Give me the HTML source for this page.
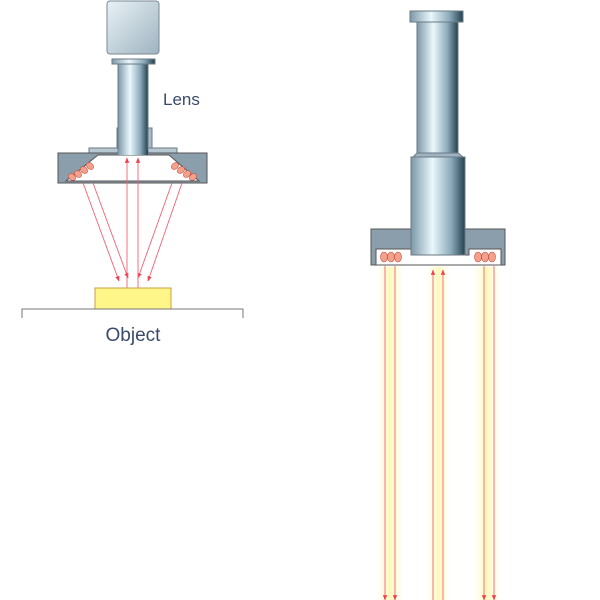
<!DOCTYPE html>
<html><head><meta charset="utf-8"><style>html,body{margin:0;padding:0;background:#fff}svg{display:block}</style></head>
<body>
<svg width="600" height="600" viewBox="0 0 600 600" xmlns="http://www.w3.org/2000/svg">
<defs>
<linearGradient id="cyl" x1="0" x2="1" y1="0" y2="0">
<stop offset="0" stop-color="#7d98a8"/><stop offset="0.4" stop-color="#eaf8fc"/><stop offset="0.75" stop-color="#8aa8b8"/><stop offset="1" stop-color="#23404e"/>
</linearGradient>
<linearGradient id="box" x1="0" x2="1" y1="0" y2="1">
<stop offset="0" stop-color="#e8f2f6"/><stop offset="1" stop-color="#9fb3c0"/>
</linearGradient>
<linearGradient id="glow" x1="0" x2="1">
<stop offset="0" stop-color="#fffce0" stop-opacity="0.2"/><stop offset="0.5" stop-color="#fff8b8"/><stop offset="1" stop-color="#fffce0" stop-opacity="0.2"/>
</linearGradient>
<marker id="ar" viewBox="0 0 10 10" refX="9" refY="5" markerWidth="6" markerHeight="6" orient="auto"><path d="M0,1 L10,5 L0,9 z" fill="#f04050"/></marker>
</defs>

<!-- LEFT -->
<rect x="107" y="1" width="52" height="53" rx="3" fill="url(#box)" stroke="#7a8a96"/>
<rect x="112" y="59" width="43" height="5" fill="url(#cyl)" stroke="#6a7a86"/>
<rect x="118" y="64" width="30" height="90" fill="url(#cyl)" stroke="#6a7a86"/>
<path d="M117,128 H118 V150 H117 Z M148,128 H152 V150 H148 Z" fill="#a8bac6" stroke="#6a7a86"/>
<rect x="89" y="148" width="29" height="6" fill="#b8c8d2" stroke="#6a7a86"/>
<rect x="148" y="148" width="29" height="6" fill="#b8c8d2" stroke="#6a7a86"/>
<path d="M58,153 H207 V183 H58 Z" fill="#8b9eac" stroke="#555"/>
<path d="M98,155 H169 L199,181 H66 Z" fill="#fff" stroke="#555"/>
<rect x="118" y="150" width="30" height="5" fill="url(#cyl)"/>
<g fill="#f4a08a" stroke="#c05040" stroke-width="0.6">
<ellipse cx="72" cy="177" rx="3" ry="4" transform="rotate(-50 72 177)"/>
<ellipse cx="78" cy="174" rx="3" ry="4" transform="rotate(-50 78 174)"/>
<ellipse cx="84" cy="170" rx="3" ry="4" transform="rotate(-50 84 170)"/>
<ellipse cx="90" cy="166" rx="3" ry="4" transform="rotate(-50 90 166)"/>
<ellipse cx="193" cy="177" rx="3" ry="4" transform="rotate(50 193 177)"/>
<ellipse cx="187" cy="174" rx="3" ry="4" transform="rotate(50 187 174)"/>
<ellipse cx="181" cy="170" rx="3" ry="4" transform="rotate(50 181 170)"/>
<ellipse cx="175" cy="166" rx="3" ry="4" transform="rotate(50 175 166)"/>
</g>
<g stroke="#f46070" stroke-width="0.9" fill="none" marker-end="url(#ar)">
<line x1="83" y1="183" x2="119" y2="281"/>
<line x1="93" y1="183" x2="128" y2="278"/>
<line x1="182" y1="183" x2="148" y2="281"/>
<line x1="172" y1="183" x2="138" y2="278"/>
<line x1="127" y1="288" x2="127" y2="158"/>
<line x1="138" y1="288" x2="138" y2="158"/>
</g>
<rect x="95" y="288" width="76" height="21" fill="#fff68a" stroke="#c8a040"/>
<path d="M22,318 V309 H243 V318" fill="none" stroke="#777"/>
<text x="133" y="341" font-family="Liberation Sans, sans-serif" font-size="19" fill="#3a4a6a" text-anchor="middle">Object</text>
<text x="163" y="105" font-family="Liberation Sans, sans-serif" font-size="17" fill="#3a4a6a">Lens</text>

<!-- RIGHT -->
<rect x="377" y="267" width="26" height="333" fill="url(#glow)"/>
<rect x="428" y="267" width="21" height="333" fill="url(#glow)"/>
<rect x="474" y="267" width="26" height="333" fill="url(#glow)"/>
<rect x="371" y="229" width="134" height="36" fill="#8b9eac" stroke="#555"/>
<path d="M376,249 H413 V255 H469 V249 H501 V265 H376 Z" fill="#fff" stroke="#555"/>
<rect x="410" y="11" width="53" height="11" fill="url(#cyl)" stroke="#6a7a86"/>
<rect x="417" y="22" width="41" height="133" fill="url(#cyl)" stroke="#6a7a86"/>
<path d="M413,157 L417,153 H458 L463,157 Z" fill="#9fb3c0" stroke="#6a7a86"/>
<rect x="411" y="157" width="54" height="98" fill="url(#cyl)" stroke="#6a7a86"/>
<g fill="#f4a08a" stroke="#c05040" stroke-width="0.6">
<ellipse cx="384" cy="257" rx="3.5" ry="5"/><ellipse cx="391" cy="257" rx="3.5" ry="5"/><ellipse cx="398" cy="257" rx="3.5" ry="5"/>
<ellipse cx="478" cy="257" rx="3.5" ry="5"/><ellipse cx="485" cy="257" rx="3.5" ry="5"/><ellipse cx="492" cy="257" rx="3.5" ry="5"/>
</g>
<g stroke="#f46070" stroke-width="0.9" fill="none">
<line x1="385" y1="266" x2="385" y2="600" marker-end="url(#ar)"/>
<line x1="395" y1="266" x2="395" y2="600" marker-end="url(#ar)"/>
<line x1="484" y1="266" x2="484" y2="600" marker-end="url(#ar)"/>
<line x1="494" y1="266" x2="494" y2="600" marker-end="url(#ar)"/>
<line x1="433" y1="600" x2="433" y2="270" marker-end="url(#ar)"/>
<line x1="443" y1="600" x2="443" y2="270" marker-end="url(#ar)"/>
</g>
</svg>
</body></html>
